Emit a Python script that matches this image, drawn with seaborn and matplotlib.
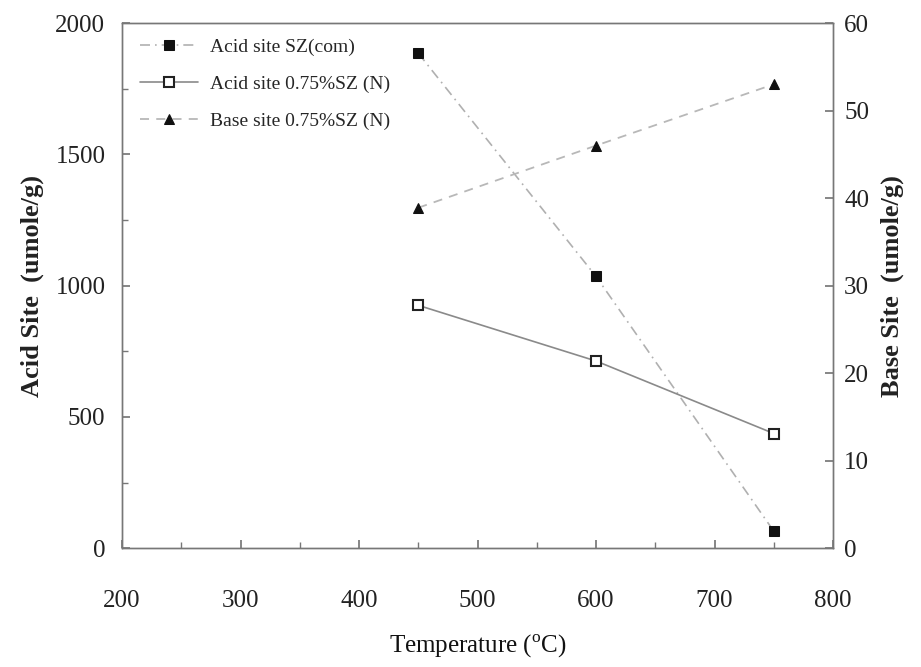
import pandas as pd
import seaborn as sns
import matplotlib.pyplot as plt
from matplotlib.ticker import MultipleLocator

# data
temperature = [450, 600, 750]
acid_sz_com = [1885, 1035, 65]
acid_sz_n = [925, 713, 437]
base_sz_n = [38.9, 46.0, 53.0]

df = pd.DataFrame({'temp': temperature, 'acid_com': acid_sz_com,
                   'acid_n': acid_sz_n, 'base_n': base_sz_n})

sns.set_theme(style='ticks')
plt.rcParams['font.family'] = ['Liberation Serif', 'DejaVu Serif']
plt.rcParams['mathtext.fontset'] = 'custom'
plt.rcParams['mathtext.rm'] = 'Liberation Serif'
plt.rcParams['xtick.direction'] = 'in'
plt.rcParams['ytick.direction'] = 'in'

fig = plt.figure(figsize=(9.21, 6.67), dpi=100)
ax = fig.add_axes([0.1325, 0.178, 0.772, 0.7875])
ax2 = ax.twinx()

sns.lineplot(data=df, x='temp', y='acid_com', ax=ax, color='#b0b0b0', lw=1.2,
             linestyle=(0, (6, 3, 1, 3)), marker='s', markersize=6.5,
             markerfacecolor='#111111', markeredgecolor='#111111',
             label='Acid site SZ(com)', legend=False)
sns.lineplot(data=df, x='temp', y='acid_n', ax=ax, color='#8a8a8a', lw=1.2,
             marker='s', markersize=6.5, markerfacecolor='white',
             markeredgecolor='#222222', markeredgewidth=1.5,
             label='Acid site 0.75%SZ (N)', legend=False)
sns.lineplot(data=df, x='temp', y='base_n', ax=ax2, color='#b8b8b8', lw=1.3,
             linestyle=(0, (5, 4)), marker='^', markersize=7.5,
             markerfacecolor='#111111', markeredgecolor='#111111',
             label='Base site 0.75%SZ (N)', legend=False)

ax.set_xlim(200, 800)
ax.set_ylim(0, 2000)
ax2.set_ylim(0, 60)
ax.xaxis.set_major_locator(MultipleLocator(100))
ax.xaxis.set_minor_locator(MultipleLocator(50))
ax.yaxis.set_major_locator(MultipleLocator(500))
ax.yaxis.set_minor_locator(MultipleLocator(250))
ax2.yaxis.set_major_locator(MultipleLocator(10))

for a in (ax, ax2):
    for s in a.spines.values():
        s.set_color('#777777')
        s.set_linewidth(1.0)
    a.tick_params(which='both', colors='#777777', labelcolor='#222222',
                  labelsize=18)
    a.tick_params(which='major', length=6)
    a.tick_params(which='minor', length=4)
ax.tick_params(axis='x', pad=30)
ax.tick_params(axis='y', pad=12)
ax2.tick_params(axis='y', pad=8)

ax.set_xlabel('Temperature ($^{\\mathrm{o}}$C)', fontsize=18, labelpad=15,
              color='#111111')
ax.set_ylabel('Acid Site  (umole/g)', fontsize=19, fontweight='bold',
              labelpad=8, color='#222222')
ax2.set_ylabel('Base Site  (umole/g)', fontsize=19, fontweight='bold',
               labelpad=8, color='#222222')

h1, l1 = ax.get_legend_handles_labels()
h2, l2 = ax2.get_legend_handles_labels()
ax.legend(h1 + h2, l1 + l2, loc='upper left', frameon=False, fontsize=14,
          handlelength=3.0, handletextpad=0.6, labelspacing=1.0,
          bbox_to_anchor=(0.0, 1.005))

fig.savefig('out.png', dpi=100)
